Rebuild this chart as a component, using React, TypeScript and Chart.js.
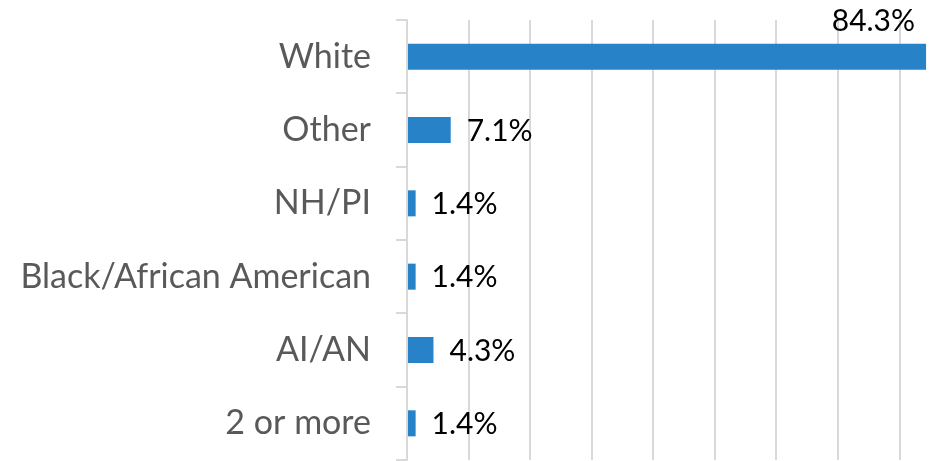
import React, { useEffect, useRef } from "react";
import { Chart, registerables } from "chart.js";

Chart.register(...registerables);

const categories = ["White", "Other", "NH/PI", "Black/African American", "AI/AN", "2 or more"];
const values = [84.3, 7.1, 1.4, 1.4, 4.3, 1.4];
const valueLabels = ["84.3%", "7.1%", "1.4%", "1.4%", "4.3%", "1.4%"];

const BAR_COLOR = "#2882C7";
const GRID_COLOR = "#d9d9d9";
const FONT = "Lato, 'Open Sans', sans-serif";
const VALUE_SIZE = 30;

const valueLabelPlugin = {
  id: "valueLabels",
  afterDatasetsDraw(chart: any) {
    const ctx = chart.ctx;
    const meta = chart.getDatasetMeta(0);
    const area = chart.chartArea;
    ctx.save();
    ctx.font = `${VALUE_SIZE}px ${FONT}`;
    ctx.fillStyle = "#000000";
    ctx.textBaseline = "alphabetic";
    meta.data.forEach((bar: any, i: number) => {
      const text = valueLabels[i];
      const w = ctx.measureText(text).width;
      const capHalf = (VALUE_SIZE * 0.72) / 2;
      const x = bar.x + 16;
      if (x + w > area.right) {
        ctx.textAlign = "right";
        const top = bar.y - bar.height / 2;
        ctx.fillText(text, bar.x - 11, top - 13);
      } else {
        ctx.textAlign = "left";
        ctx.fillText(text, x, bar.y + capHalf);
      }
    });
    ctx.restore();
  },
};

export default function App() {
  const ref = useRef<HTMLCanvasElement | null>(null);
  useEffect(() => {
    if (!ref.current) return;
    const chart = new Chart(ref.current, {
      type: "bar",
      data: {
        labels: categories,
        datasets: [
          {
            data: values,
            backgroundColor: BAR_COLOR,
            borderWidth: 0,
            categoryPercentage: 1,
            barPercentage: 0.355,
          },
        ],
      },
      options: {
        indexAxis: "y",
        animation: false,
        responsive: false,
        maintainAspectRatio: false,
        layout: { padding: { top: 20, bottom: 1, left: 0, right: 0 } },
        plugins: {
          legend: { display: false },
          tooltip: { enabled: false },
        },
        scales: {
          x: {
            min: 0,
            max: 87.7,
            ticks: { display: false, stepSize: 10 },
            border: { display: false },
            grid: {
              drawTicks: false,
              lineWidth: 2,
              color: (c: any) => (c.tick && c.tick.value % 10 === 0 ? GRID_COLOR : "rgba(0,0,0,0)"),
            },
            afterFit: (scale: any) => {
              scale.height = 0;
              scale.paddingLeft = 0;
              scale.paddingRight = 0;
            },
          },
          y: {
            afterFit: (scale: any) => {
              scale.width = 407;
              scale.paddingTop = 0;
              scale.paddingBottom = 0;
            },
            border: { display: true, color: GRID_COLOR, width: 2 },
            grid: {
              drawOnChartArea: false,
              drawTicks: true,
              tickLength: 11,
              color: GRID_COLOR,
              lineWidth: 2,
            },
            ticks: {
              padding: 25,
              color: "#595959",
              font: { family: FONT, size: 34 },
            },
          },
        },
      },
      plugins: [valueLabelPlugin],
    });
    return () => chart.destroy();
  }, []);
  return (
    <div style={{ position: "fixed", left: 0, top: 0, width: 947, height: 461, background: "#fff" }}>
      <canvas ref={ref} width={947} height={461} style={{ display: "block" }} />
    </div>
  );
}
